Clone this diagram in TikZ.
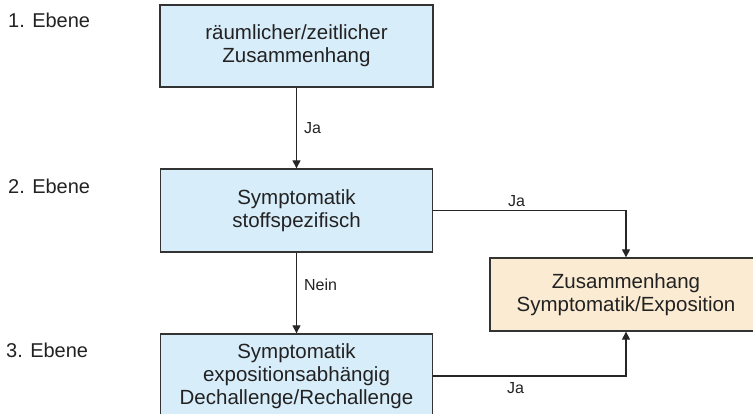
\documentclass[tikz,border=0pt]{standalone}
\usepackage{fontspec}
\setmainfont{Liberation Sans}
\usetikzlibrary{arrows.meta}
\definecolor{boxblue}{HTML}{D8EDFA}
\definecolor{boxbeige}{HTML}{FAEBD2}
\definecolor{edgecol}{HTML}{333333}
\definecolor{txt}{HTML}{222222}
\begin{document}
\begin{tikzpicture}[x=1pt,y=-1pt,
  every node/.style={text=txt, inner sep=0pt},
  box/.style={draw=edgecol, line width=1.3pt, align=center,
    font=\fontsize{20.5}{23}\selectfont},
  bluebox/.style={box, fill=boxblue},
  beigebox/.style={box, fill=boxbeige},
  lvl/.style={anchor=base west, font=\fontsize{20}{23}\selectfont},
  lab/.style={anchor=base west, font=\fontsize{16}{19}\selectfont},
  conn/.style={draw=black!85, line width=1.1pt, -{Triangle[length=8pt,width=8pt]}}
]
\useasboundingbox (0,0) rectangle (753,414);

\node[bluebox, minimum width=273pt, minimum height=82pt] (b1) at (296.5,46)
  {räumlicher/zeitlicher\\Zusammenhang};
\node[bluebox, minimum width=272pt, minimum height=83pt] (b2) at (296.5,210.5)
  {Symptomatik\\stoffspezifisch};
\node[bluebox, minimum width=272pt, minimum height=84pt] (b3) at (296.5,376)
  {Symptomatik\\expositionsabhängig\\Dechallenge/Rechallenge};
\node[beigebox, minimum width=272pt, minimum height=73pt] (b4) at (626,294.5)
  {Zusammenhang\\Symptomatik/Exposition};

\node[lvl] (e1) at (8,28) {1. Ebene};
\node[lvl] (e2) at (8,194) {2. Ebene};
\node[lvl] (e3) at (6,358) {3. Ebene};

\draw[conn] (b1.south) -- node[lab, anchor=west, xshift=7pt] (ja1) {Ja} (b2.north);
\draw[conn] (b2.south) -- node[lab, anchor=west, xshift=7pt, yshift=8pt] (nein) {Nein} (b3.north);
\draw[conn] (b2.east) -| (b4.north);
\draw[conn] (b3.east) -| (b4.south);

\node[lab] (ja2) at (508,207) {Ja};
\node[lab] (ja3) at (507,393) {Ja};
\end{tikzpicture}
\end{document}
